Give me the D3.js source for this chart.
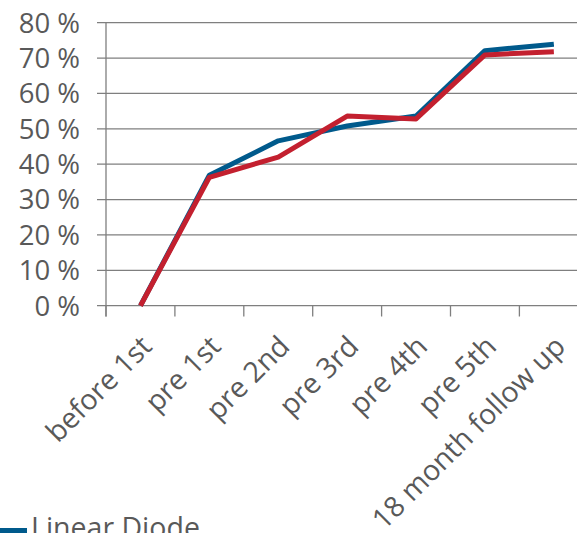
<!DOCTYPE html>
<html>
<head>
<meta charset="utf-8">
<script src="https://cdn.jsdelivr.net/npm/d3@7"></script>
<style>
html,body{margin:0;padding:0;background:#fff;overflow:hidden;}
text{font-family:"Open Sans",sans-serif;fill:#595959;}
</style>
</head>
<body>
<svg id="chart" width="577" height="533"></svg>
<script>
const categories = ["before 1st","pre 1st","pre 2nd","pre 3rd","pre 4th","pre 5th","18 month follow up"];
const linearDiode = [0, 36.9, 46.6, 50.8, 53.6, 72.1, 73.9];
const secondSeries = [0, 36.3, 42.0, 53.6, 52.8, 70.9, 71.8];
const yTicks = [0,10,20,30,40,50,60,70,80];
const seriesNames = ["Linear Diode"];

const svg = d3.select("#chart");
const x = d3.scaleBand().domain(categories).range([106, 588.3]);
const y = d3.scaleLinear().domain([0,80]).range([305.7, 22.7]);

// gridlines
svg.append("g").selectAll("line").data(yTicks).join("line")
  .attr("x1", 97).attr("x2", 600)
  .attr("y1", d=>y(d)).attr("y2", d=>y(d))
  .attr("stroke", "#7f7f7f").attr("stroke-width", 1.3);

// y axis line
svg.append("line").attr("x1",106).attr("x2",106).attr("y1",y(80)).attr("y2",316.5)
  .attr("stroke","#7f7f7f").attr("stroke-width",1.3);

// x ticks
const xt = categories.map((c,i)=>x.range()[0] + i*x.step());
svg.append("g").selectAll("line").data(xt).join("line")
  .attr("x1", d=>d).attr("x2", d=>d).attr("y1", y(0)).attr("y2", 316.5)
  .attr("stroke","#7f7f7f").attr("stroke-width",1.3);

// y labels
svg.append("g").selectAll("text").data(yTicks).join("text")
  .attr("x", 80).attr("y", d=>y(d)).attr("dy","0.36em")
  .attr("text-anchor","end").attr("font-size", 27.5)
  .text(d=>d+" %");

// x labels
svg.append("g").selectAll("text").data(categories).join("text")
  .attr("transform", d=>`translate(${x(d)+x.bandwidth()/2-1},${334}) rotate(-45)`)
  .attr("text-anchor","end").attr("dy","0.7em").attr("font-size",28.5)
  .text(d=>d);

const line = d3.line().x((d,i)=>x(categories[i])+x.bandwidth()/2).y(d=>y(d));
svg.append("path").datum(linearDiode).attr("d",line)
  .attr("fill","none").attr("stroke","#005a8c").attr("stroke-width",5).attr("stroke-linejoin","round");
svg.append("path").datum(secondSeries).attr("d",line)
  .attr("fill","none").attr("stroke","#c3202f").attr("stroke-width",5).attr("stroke-linejoin","round");

// legend
svg.append("line").attr("x1",0).attr("x2",27).attr("y1",530.5).attr("y2",530.5)
  .attr("stroke","#005a8c").attr("stroke-width",5);
svg.append("text").attr("x",31).attr("y",538).attr("font-size",28.5).text(seriesNames[0]);
</script>
</body>
</html>
